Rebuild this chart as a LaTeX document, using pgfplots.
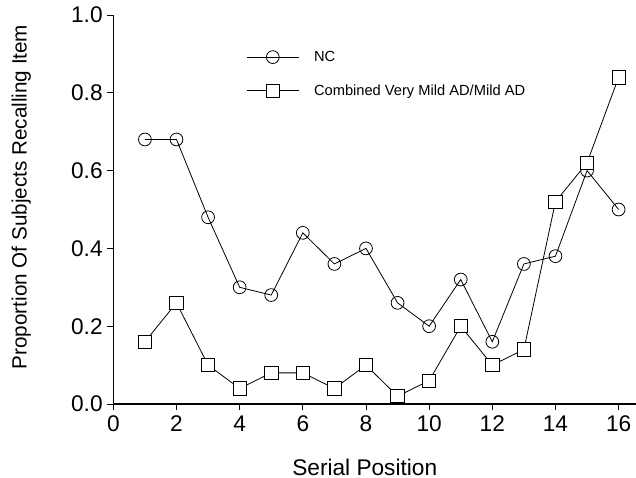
\documentclass[border=0pt]{standalone}
\usepackage{fontspec}
\setmainfont{Liberation Sans}
\usepackage{pgfplots}
\pgfplotsset{compat=1.18}

\begin{document}
\begin{tikzpicture}
\begin{axis}[
    scale only axis,
    width=392pt, height=291.75pt,
    xmin=0, xmax=16.55, ymin=0, ymax=1.0,
    axis x line*=bottom, axis y line*=left,
    axis line style={line width=0.8pt},
    xtick={0,2,...,16},
    ytick={0,0.2,...,1.0},
    yticklabel style={/pgf/number format/.cd, fixed, fixed zerofill, precision=1},
    /pgf/number format/assume math mode=true,
    tick align=outside, major tick length=4.5pt,
    tick style={black, line width=0.6pt},
    ticklabel style={font=\fontsize{17}{19}\selectfont},
    xticklabel style={yshift=-1pt},
    xlabel={Serial Position},
    ylabel={Proportion Of Subjects Recalling Item},
    xlabel style={font=\fontsize{17}{19}\selectfont, at={(axis description cs:0.481,-0.162)}, anchor=center},
    ylabel style={font=\fontsize{15.5}{18}\selectfont, at={(axis description cs:-0.176,0.532)}, anchor=center},
    legend style={draw=none, fill=none, at={(axis cs:4.2,0.915)}, anchor=north west,
        font=\fontsize{11}{13}\selectfont, row sep=12pt, column sep=9pt, inner sep=0pt},
    legend cell align=left,
    legend image code/.code={\draw[mark repeat=2,mark phase=2] plot coordinates {(0cm,0cm)(0.69cm,0cm)(1.38cm,0cm)};},
]
\addplot[black, line width=0.6pt, mark=o, mark size=4.8pt, mark options={fill=white, line width=0.6pt}]
coordinates {(1,0.68)(2,0.68)(3,0.48)(4,0.30)(5,0.28)(6,0.44)(7,0.36)(8,0.40)(9,0.26)(10,0.20)(11,0.32)(12,0.16)(13,0.36)(14,0.38)(15,0.60)(16,0.50)};
\addlegendentry{NC}
\addplot[black, line width=0.6pt, mark=square*, mark size=5pt, mark options={fill=white, line width=0.6pt}]
coordinates {(1,0.16)(2,0.26)(3,0.10)(4,0.04)(5,0.08)(6,0.08)(7,0.04)(8,0.10)(9,0.02)(10,0.06)(11,0.20)(12,0.10)(13,0.14)(14,0.52)(15,0.62)(16,0.84)};
\addlegendentry{Combined Very Mild AD/Mild AD}
\coordinate (bl) at (rel axis cs:0,0);
\coordinate (tr) at (rel axis cs:1,1);
\end{axis}
\pgfresetboundingbox
\path ([shift={(-85pt,-55.5pt)}]bl) rectangle ([shift={(0pt,11.25pt)}]tr);
\end{tikzpicture}
\end{document}
